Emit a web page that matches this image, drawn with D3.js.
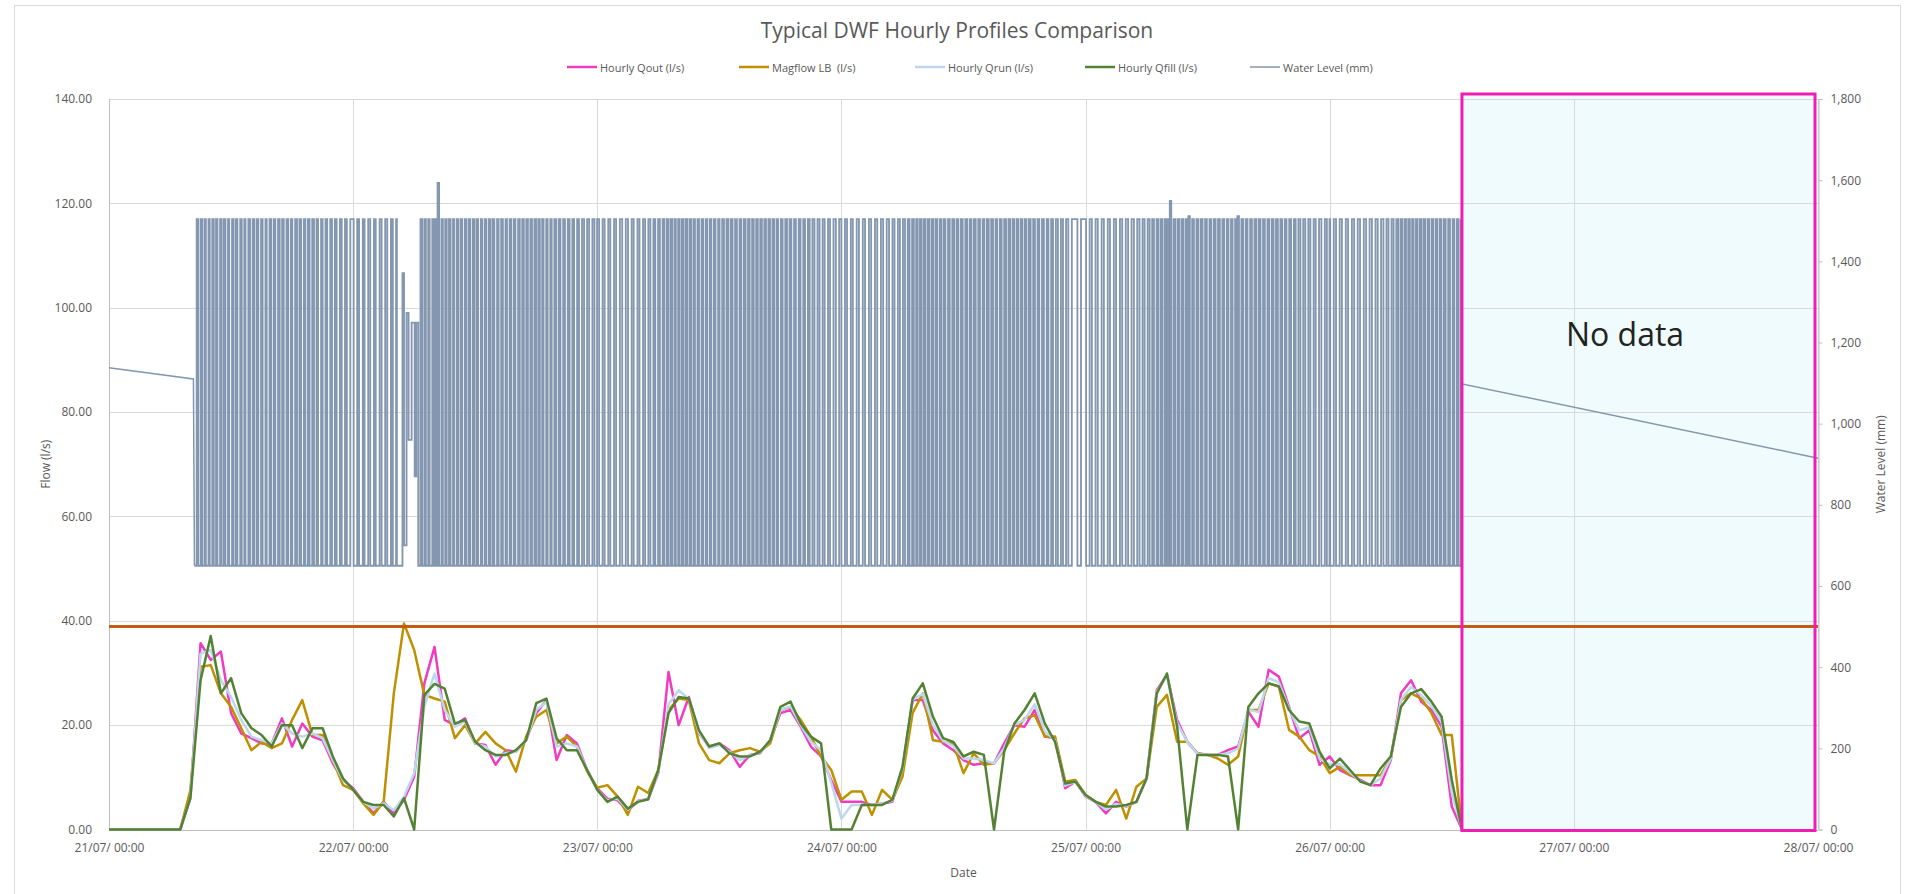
<!DOCTYPE html>
<html>
<head>
<meta charset="utf-8">
<script src="https://cdn.jsdelivr.net/npm/d3@7"></script>
<style>
  body { margin: 0; background: #fff; }
  svg { display: block; font-family: "Open Sans", sans-serif; }
</style>
</head>
<body>
<div id="chart"></div>
<script>

//
// DATA
//

// hourly values, index = hours since 21/07 00:00 (last one is 26/07 13:00)
const qout = [
  0, 0, 0, 0, 0, 0, 0, 0, 6.0, 35.7, 32.5, 34.1, 22.3, 18.4, 17.5, 16.5, 16.5, 21.3, 15.9, 20.3, 17.8, 17.1, 12.7, 9.5,
  7.9, 5.3, 3.1, 5.3, 3.1, 5.7, 10.1, 28.0, 35.0, 21.0, 20.0, 21.3, 16.5, 16.2, 12.4, 15.2, 14.9, 17.1, 22.3, 24.8, 13.3, 18.1, 16.5, 11.4,
  7.9, 5.9, 5.6, 3.5, 5.5, 5.8, 10.8, 30.2, 20.0, 25.4, 18.4, 15.9, 16.5, 15.2, 12.0, 14.3, 14.6, 17.1, 22.3, 22.9, 19.7, 15.9, 14.0, 9.5,
  5.3, 5.3, 5.3, 4.7, 5.0, 5.3, 11.4, 24.8, 24.8, 19.0, 16.5, 15.2, 13.3, 12.4, 12.7, 12.7, 16.5, 20.0, 19.7, 22.9, 17.8, 17.5, 7.9, 9.2,
  6.3, 5.3, 3.1, 5.3, 4.4, 5.3, 9.8, 26.7, 29.6, 21.0, 16.8, 14.6, 14.3, 14.3, 15.2, 15.9, 22.6, 19.7, 30.6, 29.3, 23.5, 17.5, 19.0, 12.4,
  14.0, 11.4, 10.4, 9.5, 8.5, 8.5, 13.3, 26.1, 28.6, 24.5, 22.9, 19.7, 4.4, 0
];
const magflow = [
  0, 0, 0, 0, 0, 0, 0, 0, 7.5, 31.2, 31.5, 26.1, 23.5, 19.4, 15.2, 16.8, 15.6, 16.5, 21.0, 24.8, 18.1, 18.1, 13.3, 8.5,
  7.6, 5.0, 2.8, 5.3, 26.1, 39.5, 34.4, 25.8, 25.1, 24.5, 17.5, 20.0, 16.5, 18.7, 16.5, 15.2, 11.1, 17.8, 21.6, 22.9, 16.5, 17.8, 15.9, 11.1,
  8.0, 8.5, 6.3, 2.8, 8.2, 7.0, 11.4, 22.9, 25.1, 24.8, 16.5, 13.3, 12.7, 14.6, 15.2, 15.6, 14.9, 16.5, 22.9, 23.5, 21.0, 17.8, 14.0, 11.4,
  5.7, 7.3, 7.3, 2.8, 7.6, 5.7, 10.1, 22.3, 26.1, 17.1, 16.8, 16.5, 10.8, 14.6, 12.4, 12.7, 15.2, 18.4, 21.3, 21.9, 17.8, 17.8, 9.2, 9.5,
  6.6, 5.3, 4.7, 7.6, 2.1, 8.2, 9.8, 23.5, 25.8, 16.8, 16.8, 14.6, 14.3, 13.6, 12.4, 14.0, 22.9, 22.9, 28.0, 27.4, 19.1, 17.8, 15.2, 14.0,
  10.8, 12.0, 10.4, 10.4, 10.4, 10.4, 13.6, 24.8, 26.1, 25.1, 22.3, 18.1, 18.1, 0
];
const qrun = [
  0, 0, 0, 0, 0, 0, 0, 0, 6.0, 33.7, 34.4, 28.6, 25.4, 21.0, 17.8, 17.1, 16.5, 20.3, 18.4, 17.8, 18.4, 17.5, 13.3, 9.5,
  7.6, 5.3, 4.0, 5.0, 3.7, 6.3, 10.8, 23.5, 29.9, 22.9, 19.7, 20.7, 16.5, 15.9, 14.0, 14.6, 14.9, 17.1, 22.9, 24.5, 15.9, 16.5, 15.9, 11.4,
  7.6, 5.6, 5.9, 3.8, 5.4, 5.8, 11.0, 24.0, 26.7, 25.0, 18.6, 15.6, 16.2, 14.9, 13.3, 14.2, 14.7, 17.1, 22.9, 23.6, 20.0, 16.8, 15.2, 9.0,
  2.1, 4.7, 4.7, 4.7, 5.0, 5.5, 11.7, 24.9, 26.0, 20.0, 17.0, 16.0, 13.6, 13.6, 13.3, 12.7, 15.6, 20.1, 21.0, 24.0, 18.8, 17.1, 8.4, 9.2,
  6.4, 5.3, 3.8, 4.9, 4.5, 5.3, 9.8, 26.4, 29.4, 20.4, 16.8, 14.5, 14.3, 14.3, 14.6, 15.5, 23.0, 22.5, 29.0, 28.2, 23.2, 19.0, 19.6, 13.6,
  12.5, 12.5, 10.9, 9.3, 8.5, 9.8, 13.6, 24.8, 27.3, 25.7, 23.7, 20.6, 7.0, 0
];
const qfill = [
  0, 0, 0, 0, 0, 0, 0, 0, 6.0, 28.6, 37.1, 26.1, 29.0, 22.3, 19.4, 18.1, 15.9, 20.0, 20.0, 15.6, 19.4, 19.4, 14.0, 9.8,
  7.6, 5.3, 4.7, 4.7, 2.5, 6.0, 0, 25.8, 27.9, 27.0, 20.3, 21.0, 16.8, 15.2, 14.3, 14.3, 15.2, 17.1, 24.2, 25.1, 17.5, 15.2, 15.2, 11.4,
  7.6, 5.3, 6.3, 4.0, 5.3, 5.8, 11.4, 22.3, 25.4, 25.1, 19.0, 15.9, 16.5, 14.6, 14.0, 14.0, 14.9, 17.1, 23.5, 24.5, 20.3, 17.8, 16.5, 0,
  0, 0, 4.7, 4.7, 4.7, 5.7, 12.0, 25.1, 28.0, 21.6, 17.5, 16.8, 14.0, 14.9, 14.3, 0, 14.9, 20.3, 22.9, 26.1, 20.3, 16.8, 8.8, 9.2,
  6.6, 5.3, 4.4, 4.4, 4.7, 5.3, 9.8, 26.1, 29.9, 19.7, 0, 14.3, 14.3, 14.3, 14.0, 0, 23.5, 26.1, 28.0, 27.4, 22.9, 20.7, 20.3, 14.9,
  11.7, 13.6, 11.4, 9.2, 8.5, 11.7, 14.0, 23.5, 26.1, 26.9, 24.5, 21.6, 9.5, 0
];

// water level (mm): pump cycles, [hour of low, hour of high] for each day
const levelLow = 650;
const levelHigh = 1504;
const pumpDay21 = [
  [8.40, 8.62], [8.78, 9.02], [9.15, 9.38], [9.52, 9.78], [9.90, 10.15], [10.30, 10.52], [10.66, 10.92], [11.08, 11.30],
  [11.45, 11.70], [11.82, 12.10], [12.25, 12.48], [12.62, 12.90], [13.05, 13.30], [13.42, 13.70], [13.86, 14.12], [14.28, 14.52],
  [14.68, 14.95], [15.10, 15.38], [15.50, 15.78], [15.95, 16.20], [16.35, 16.62], [16.78, 17.02], [17.18, 17.45], [17.62, 17.88],
  [18.02, 18.30], [18.48, 18.72], [18.88, 19.15], [19.30, 19.55], [19.72, 19.98], [20.15, 20.40], [20.55, 20.85], [21.00, 21.28],
  [21.45, 21.75], [21.92, 22.20], [22.38, 22.70], [22.88, 23.20], [23.38, 23.72]
];
const pumpDay22 = [
  [0.05, 0.40], [0.58, 0.95], [1.12, 1.48], [1.68, 2.05], [2.22, 2.60], [2.80, 3.15], [3.35, 3.72], [3.90, 4.22],
  [6.40, 6.62], [6.78, 7.00], [7.15, 7.38], [7.52, 7.78], [7.92, 8.10], [8.45, 8.68], [8.82, 9.05], [9.20, 9.42],
  [9.58, 9.82], [9.95, 10.20], [10.35, 10.58], [10.72, 10.98], [11.12, 11.35], [11.50, 11.75], [11.90, 12.12], [12.28, 12.55],
  [12.70, 12.95], [13.10, 13.35], [13.50, 13.72], [13.88, 14.15], [14.30, 14.55], [14.72, 14.98], [15.12, 15.38], [15.55, 15.80],
  [15.95, 16.22], [16.38, 16.62], [16.78, 17.02], [17.18, 17.42], [17.58, 17.82], [17.98, 18.20], [18.35, 18.58], [18.72, 18.98],
  [19.12, 19.38], [19.52, 19.78], [19.95, 20.20], [20.38, 20.65], [20.82, 21.10], [21.28, 21.55], [21.72, 22.02], [22.20, 22.50],
  [22.70, 23.00], [23.20, 23.52], [23.72, 23.98]
];
const pumpDay23 = [
  [0.18, 0.52], [0.72, 1.08], [1.28, 1.65], [1.85, 2.22], [2.45, 2.80], [3.02, 3.38], [3.58, 3.95], [4.15, 4.50],
  [4.70, 5.02], [5.22, 5.52], [5.70, 5.98], [6.15, 6.42], [6.58, 6.82], [6.98, 7.20], [7.35, 7.58], [7.72, 7.95],
  [8.10, 8.32], [8.48, 8.70], [8.85, 9.08], [9.22, 9.45], [9.60, 9.85], [10.00, 10.25], [10.40, 10.65], [10.80, 11.05],
  [11.20, 11.45], [11.62, 11.88], [12.02, 12.28], [12.45, 12.70], [12.88, 13.12], [13.30, 13.55], [13.72, 13.98], [14.15, 14.40],
  [14.58, 14.82], [14.98, 15.22], [15.38, 15.62], [15.78, 16.02], [16.18, 16.42], [16.58, 16.82], [16.98, 17.22], [17.38, 17.62],
  [17.78, 18.05], [18.22, 18.48], [18.65, 18.90], [19.08, 19.35], [19.52, 19.80], [19.98, 20.25], [20.42, 20.70], [20.88, 21.15],
  [21.35, 21.65], [21.85, 22.15], [22.35, 22.68], [22.88, 23.22], [23.45, 23.78]
];
const pumpDay24 = [
  [0.00, 0.35], [0.55, 0.92], [1.12, 1.50], [1.72, 2.10], [2.32, 2.70], [2.92, 3.30], [3.52, 3.88], [4.10, 4.45],
  [4.68, 5.02], [5.22, 5.55], [5.75, 6.05], [6.25, 6.52], [6.70, 6.95], [7.12, 7.35], [7.50, 7.72], [7.88, 8.10],
  [8.25, 8.48], [8.62, 8.85], [9.02, 9.25], [9.40, 9.65], [9.82, 10.05], [10.22, 10.48], [10.65, 10.90], [11.08, 11.32],
  [11.50, 11.75], [11.92, 12.18], [12.35, 12.60], [12.78, 13.02], [13.20, 13.45], [13.62, 13.88], [14.05, 14.30], [14.48, 14.72],
  [14.90, 15.15], [15.32, 15.58], [15.75, 16.00], [16.18, 16.42], [16.58, 16.82], [16.98, 17.22], [17.38, 17.62], [17.78, 18.02],
  [18.18, 18.42], [18.60, 18.85], [19.02, 19.28], [19.45, 19.72], [19.90, 20.18], [20.35, 20.62], [20.80, 21.08], [21.28, 21.58],
  [21.78, 22.08], [22.30, 22.65], [23.20, 23.55]
];
const pumpDay25 = [
  [0.05, 0.40], [0.62, 0.98], [1.20, 1.58], [1.80, 2.18], [2.40, 2.78], [3.00, 3.38], [3.60, 3.95], [4.18, 4.52],
  [4.75, 5.08], [5.30, 5.60], [5.80, 6.10], [6.30, 6.55], [6.72, 6.98], [7.15, 7.38], [7.55, 7.78], [7.95, 8.12],
  [8.42, 8.65], [8.82, 9.05], [9.22, 9.45], [9.62, 9.85], [10.25, 10.48], [10.65, 10.90], [11.08, 11.32], [11.50, 11.75],
  [11.92, 12.18], [12.35, 12.60], [12.78, 13.02], [13.20, 13.45], [13.62, 13.88], [14.05, 14.30], [14.45, 14.70], [15.08, 15.32],
  [15.50, 15.75], [15.92, 16.18], [16.35, 16.60], [16.78, 17.02], [17.20, 17.45], [17.62, 17.88], [18.05, 18.30], [18.48, 18.72],
  [18.90, 19.15], [19.32, 19.58], [19.75, 20.02], [20.20, 20.48], [20.65, 20.92], [21.12, 21.40], [21.60, 21.90], [22.10, 22.42],
  [22.62, 22.95], [23.18, 23.52], [23.72, 23.98]
];
const pumpDay26 = [
  [0.05, 0.40], [0.62, 0.98], [1.20, 1.58], [1.80, 2.18], [2.40, 2.75], [2.98, 3.35], [3.58, 3.92], [4.15, 4.50],
  [4.72, 5.05], [5.28, 5.58], [5.78, 6.08], [6.28, 6.55], [6.72, 6.95], [7.12, 7.35], [7.50, 7.72], [7.88, 8.10],
  [8.25, 8.48], [8.62, 8.85], [9.00, 9.22], [9.38, 9.62], [9.78, 10.02], [10.18, 10.42], [10.58, 10.82], [10.98, 11.22],
  [11.40, 11.65], [11.82, 12.08], [12.25, 12.50], [12.68, 12.90]
];
// odd readings [hours since start, mm]: partial cycles and spikes
const levelOdd = [
  [28.30, 650], [28.85, 1371], [29.00, 700], [29.25, 1273], [29.45, 960], [29.75, 1249], [30.05, 870], [30.20, 1249],
  [32.22, 650], [32.30, 1593],
  [104.22, 650], [104.28, 1549], [106.00, 650], [106.10, 1511], [110.85, 650], [110.92, 1511]
];
const levelLeadIn = [[0, 1138], [8.30, 1110]];
const levelLeadOut = [[133, 1098], [168, 915]];

// threshold line (mm, right axis)
const threshold = 500;

// no data window (hours since start)
const noDataWindow = [133, 168];

const seriesNames = ['Hourly Qout (l/s)', 'Magflow LB  (l/s)', 'Hourly Qrun (l/s)', 'Hourly Qfill (l/s)', 'Water Level (mm)'];
const seriesColors = ['#f03cc0', '#bf9000', '#bdd7ee', '#548235', '#8497b0'];
const flowTicks = [0, 20, 40, 60, 80, 100, 120, 140];
const levelTicks = [0, 200, 400, 600, 800, 1000, 1200, 1400, 1600, 1800];

//
// CHART
//

const width = 1905;
const height = 894;
const margin = {top: 99, right: 87, bottom: 64.5, left: 109};
const start = new Date(Date.UTC(2021, 6, 21));
const end = new Date(Date.UTC(2021, 6, 28));
const hourDate = h => new Date(start.getTime() + h * 3600e3);

const svg = d3.select('#chart')
  .append('svg')
    .attr('width', width)
    .attr('height', height);

// outer chart border
svg.append('rect')
  .attr('x', 14.5).attr('y', 5.5)
  .attr('width', 1886).attr('height', 900)
  .attr('fill', '#fff')
  .attr('stroke', '#d9d9d9');

// scales
const x = d3.scaleUtc()
  .domain([start, end])
  .range([margin.left, width - margin.right]);
const y = d3.scaleLinear()
  .domain([0, 140])
  .range([height - margin.bottom, margin.top]);
const y2 = d3.scaleLinear()
  .domain([0, 1800])
  .range([height - margin.bottom, margin.top]);
const days = d3.utcDay.range(start, d3.utcDay.offset(end, 1));

// no data box fill
const box = {
  x0: x(hourDate(noDataWindow[0])),
  x1: x(hourDate(noDataWindow[1])) - 3,
  y0: y(140) - 5,
  y1: y(0) + 1
};
svg.append('rect')
  .attr('x', box.x0).attr('y', box.y0)
  .attr('width', box.x1 - box.x0).attr('height', box.y1 - box.y0)
  .attr('fill', '#effbfc');

// gridlines
svg.append('g')
  .selectAll('line')
  .data(flowTicks)
  .join('line')
    .attr('x1', margin.left).attr('x2', width - margin.right)
    .attr('y1', d => Math.round(y(d)) + 0.5).attr('y2', d => Math.round(y(d)) + 0.5)
    .attr('stroke', '#d9d9d9');
svg.append('g')
  .selectAll('line')
  .data(days)
  .join('line')
    .attr('x1', d => Math.round(x(d)) + 0.5).attr('x2', d => Math.round(x(d)) + 0.5)
    .attr('y1', margin.top).attr('y2', height - margin.bottom)
    .attr('stroke', '#d9d9d9');

// axes
const axisColor = '#bfbfbf';
const labelColor = '#595959';
svg.append('line')
  .attr('x1', margin.left + 0.5).attr('x2', margin.left + 0.5)
  .attr('y1', margin.top).attr('y2', height - margin.bottom)
  .attr('stroke', axisColor);
svg.append('line')
  .attr('x1', margin.left).attr('x2', width - margin.right)
  .attr('y1', Math.round(y(0)) + 0.5).attr('y2', Math.round(y(0)) + 0.5)
  .attr('stroke', axisColor);

const yAxis = svg.append('g')
  .attr('transform', `translate(${margin.left - 14},0)`)
  .call(d3.axisLeft(y).tickValues(flowTicks).tickFormat(d3.format('.2f')).tickSize(0));
const y2Axis = svg.append('g')
  .attr('transform', `translate(${width - margin.right + 0.5},0)`)
  .call(d3.axisRight(y2).tickValues(levelTicks).tickFormat(d3.format(',')).tickSize(4).tickPadding(8));
const xAxis = svg.append('g')
  .attr('transform', `translate(0,${height - margin.bottom + 11})`)
  .call(d3.axisBottom(x).tickValues(days).tickFormat(d3.utcFormat('%d/%m/ %H:%M')).tickSize(0));

[yAxis, y2Axis, xAxis].forEach(g => {
  g.select('.domain').attr('stroke', axisColor);
  g.selectAll('.tick line').attr('stroke', axisColor);
  g.selectAll('text')
    .attr('fill', labelColor)
    .style('font-size', '12px')
    .style('font-family', '"Open Sans", sans-serif');
});
yAxis.select('.domain').remove();
xAxis.select('.domain').remove();

// flow lines
const flowLine = d3.line()
  .x((d, i) => x(hourDate(i)))
  .y(d => y(d));
[qout, magflow, qrun, qfill].forEach((series, i) => {
  svg.append('path')
    .datum(series)
      .attr('fill', 'none')
      .attr('stroke', seriesColors[i])
      .attr('stroke-width', 2.5)
      .attr('stroke-linejoin', 'round')
      .attr('d', flowLine);
});

// water level line
let cyclePts = [];
[pumpDay21, pumpDay22, pumpDay23, pumpDay24, pumpDay25, pumpDay26].forEach((day, d) => {
  day.forEach(([lo, hi]) => {
    cyclePts.push([d * 24 + lo, levelLow]);
    cyclePts.push([d * 24 + hi, levelHigh]);
  });
});
levelOdd.forEach(p => cyclePts.push(p));
cyclePts.sort((a, b) => a[0] - b[0]);

const levelLine = d3.line()
  .x(d => x(hourDate(d[0])))
  .y(d => y2(d[1]));
// level holds between logged readings while the pump cycles
const pumpLine = d3.line()
  .curve(d3.curveStepAfter)
  .x(d => x(hourDate(d[0])))
  .y(d => y2(d[1]));

const levelG = svg.append('g')
  .attr('fill', 'none')
  .attr('stroke', seriesColors[4]);
levelG.append('path')
  .datum(levelLeadIn.concat([cyclePts[0]]))
    .attr('stroke-width', 1.5)
    .attr('d', levelLine);
levelG.append('path')
  .datum(cyclePts)
    .attr('stroke-width', 1.85)
    .attr('d', pumpLine);
levelG.append('path')
  .datum([cyclePts[cyclePts.length - 1]].concat(levelLeadOut))
    .attr('stroke-width', 1.5)
    .attr('d', levelLine);

// threshold line
svg.append('line')
  .attr('x1', margin.left).attr('x2', width - margin.right)
  .attr('y1', y2(threshold)).attr('y2', y2(threshold))
  .attr('stroke', '#c55a11')
  .attr('stroke-width', 3);

// no data box outline + label
svg.append('rect')
  .attr('x', box.x0).attr('y', box.y0)
  .attr('width', box.x1 - box.x0).attr('height', box.y1 - box.y0)
  .attr('fill', 'none')
  .attr('stroke', '#f01cb4')
  .attr('stroke-width', 3);
svg.append('text')
  .attr('x', 1625)
  .attr('y', y(95))
  .attr('text-anchor', 'middle')
  .attr('dominant-baseline', 'central')
  .style('font-size', '32px')
  .attr('fill', '#222')
  .text('No data');

// titles
svg.append('text')
  .attr('x', 957).attr('y', 30)
  .attr('text-anchor', 'middle')
  .attr('dominant-baseline', 'central')
  .style('font-size', '21px')
  .attr('fill', labelColor)
  .text('Typical DWF Hourly Profiles Comparison');
svg.append('text')
  .attr('transform', `translate(45,${(margin.top + height - margin.bottom) / 2}) rotate(-90)`)
  .attr('text-anchor', 'middle')
  .attr('dominant-baseline', 'central')
  .style('font-size', '12px')
  .attr('fill', labelColor)
  .text('Flow (l/s)');
svg.append('text')
  .attr('transform', `translate(1880,${(margin.top + height - margin.bottom) / 2}) rotate(-90)`)
  .attr('text-anchor', 'middle')
  .attr('dominant-baseline', 'central')
  .style('font-size', '12px')
  .attr('fill', labelColor)
  .text('Water Level (mm)');
svg.append('text')
  .attr('x', (margin.left + width - margin.right) / 2).attr('y', 872)
  .attr('text-anchor', 'middle')
  .attr('dominant-baseline', 'central')
  .style('font-size', '12px')
  .attr('fill', labelColor)
  .text('Date');

// legend
const legendX = [567, 739, 915, 1085, 1250];
const legend = svg.append('g')
  .selectAll('g')
  .data(seriesNames)
  .join('g')
    .attr('transform', (d, i) => `translate(${legendX[i]},67)`);
legend.append('line')
  .attr('x1', 0).attr('x2', 30)
  .attr('stroke', (d, i) => seriesColors[i])
  .attr('stroke-width', (d, i) => i == 4 ? 1.5 : 2.5);
legend.append('text')
  .attr('x', 33)
  .attr('dominant-baseline', 'central')
  .style('font-size', '11px')
  .style('white-space', 'pre')
  .attr('fill', labelColor)
  .text(d => d);

</script>
</body>
</html>
